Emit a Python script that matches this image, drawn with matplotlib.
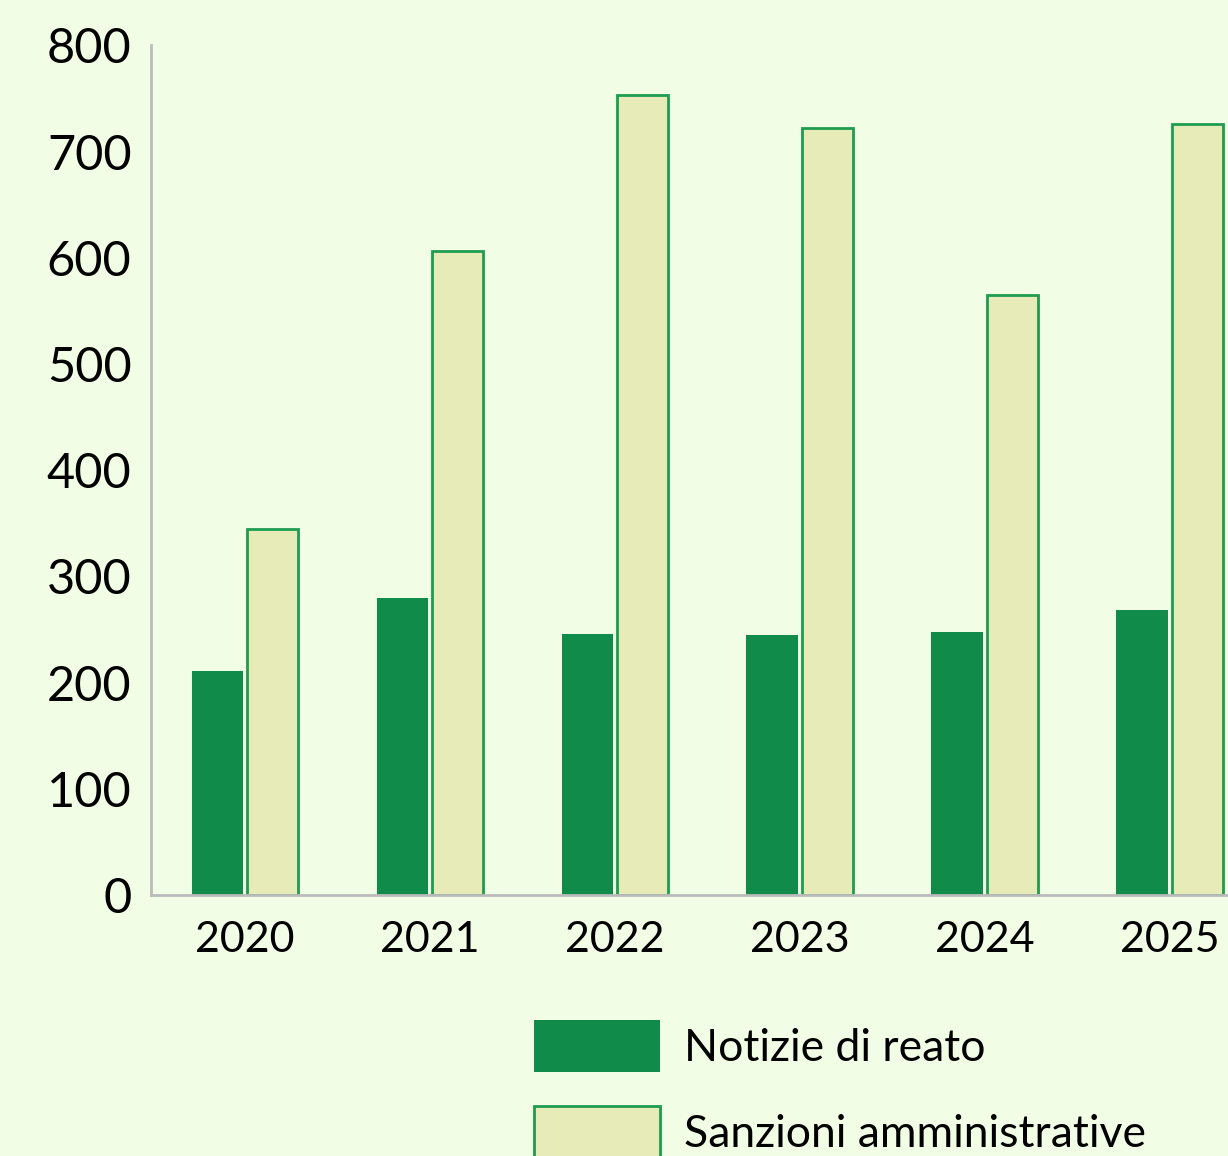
import matplotlib
matplotlib.use("Agg")
import matplotlib.pyplot as plt
import numpy as np

# data
years = ["2020", "2021", "2022", "2023", "2024", "2025"]
notizie = [211, 280, 246, 245, 248, 268]
sanzioni = [345, 606, 753, 722, 565, 726]
y_ticks = [0, 100, 200, 300, 400, 500, 600, 700, 800]

BG = "#F1FDE4"
DARK = "#118B4A"
LIGHT = "#E7EBB8"
EDGE = "#1E9C50"
AXIS = "#BBBBBB"

plt.rcParams["font.family"] = ["Lato", "DejaVu Sans"]

fig = plt.figure(figsize=(12.28, 11.56), dpi=100, facecolor=BG)
ax = fig.add_axes([0.123, 0.2258, 0.877, 0.735])
ax.set_facecolor(BG)

x = np.arange(len(years))
w = 0.276
off = 0.151
ax.bar(x - off, notizie, width=w, color=DARK, label="Notizie di reato")
ax.bar(x + off, sanzioni, width=w, color=LIGHT, edgecolor=EDGE, linewidth=2,
       label="Sanzioni amministrative")

ax.set_xlim(-0.508, 5.314)
ax.set_ylim(0, 800)
ax.set_xticks(x)
ax.set_xticklabels(years, fontsize=31)
ax.set_yticks(y_ticks)
ax.set_yticklabels([str(v) for v in y_ticks], fontsize=35)
ax.tick_params(axis="both", length=0, colors="black")
ax.tick_params(axis="y", pad=14)
ax.tick_params(axis="x", pad=19)

for side in ("top", "right"):
    ax.spines[side].set_visible(False)
for side in ("left", "bottom"):
    ax.spines[side].set_color(AXIS)
    ax.spines[side].set_linewidth(2)

leg = fig.legend(loc="upper left", bbox_to_anchor=(0.435, 0.118), frameon=False,
                 prop={"size": 32},
                 handlelength=2.82, handleheight=1.45, handletextpad=0.55,
                 labelspacing=0.75, borderpad=0, borderaxespad=0)

fig.savefig("out.png", dpi=100, facecolor=BG)
